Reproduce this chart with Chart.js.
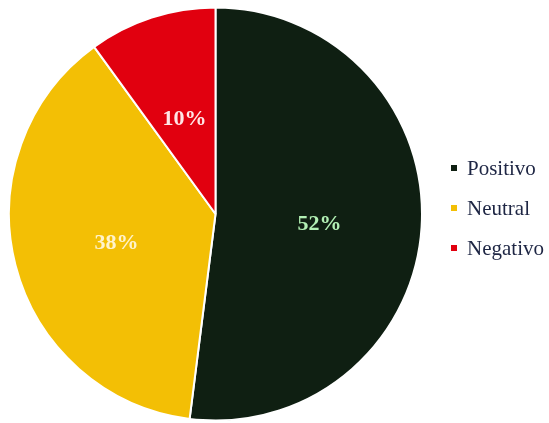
<!DOCTYPE html>
<html>
<head>
<meta charset="utf-8">
<script src="https://cdn.jsdelivr.net/npm/chart.js@4"></script>
<style>
  html, body { margin: 0; padding: 0; background: #fff; }
  .chart-container { position: relative; width: 549px; height: 423px; }
</style>
</head>
<body>
<div class="chart-container">
  <canvas id="pie"></canvas>
</div>
<script>
// data
const labels = ['Positivo', 'Neutral', 'Negativo'];
const values = [52, 38, 10];
const colors = ['#0f1f12', '#f3bf05', '#e1000f'];
const labelColors = ['#b2f0b4', '#fff3cc', '#ffe6e6'];

// percent labels in the middle of each slice
const sliceLabels = {
  id: 'sliceLabels',
  afterDatasetsDraw(chart) {
    const ctx = chart.ctx;
    const meta = chart.getDatasetMeta(0);
    ctx.save();
    ctx.font = 'bold 22px "Liberation Serif", serif';
    ctx.textAlign = 'center';
    ctx.textBaseline = 'middle';
    meta.data.forEach((arc, i) => {
      const p = arc.tooltipPosition();
      ctx.fillStyle = labelColors[i];
      ctx.fillText(values[i] + '%', p.x + 1, p.y + 4);
    });
    ctx.restore();
  }
};

// legend on the right, small square markers
const sideLegend = {
  id: 'sideLegend',
  afterDraw(chart) {
    const ctx = chart.ctx;
    ctx.save();
    ctx.font = '21px "Liberation Serif", serif';
    ctx.textBaseline = 'middle';
    labels.forEach((lab, i) => {
      const y = 168 + i * 40;
      ctx.fillStyle = colors[i];
      ctx.fillRect(451, y - 3, 6, 6);
      ctx.fillStyle = '#1e2644';
      ctx.fillText(lab, 467, y + 1);
    });
    ctx.restore();
  }
};

new Chart(document.getElementById('pie'), {
  type: 'pie',
  data: {
    labels: labels,
    datasets: [{
      data: values,
      backgroundColor: colors,
      borderColor: '#ffffff',
      borderWidth: 2
    }]
  },
  options: {
    responsive: true,
    maintainAspectRatio: false,
    animation: false,
    layout: { padding: { left: 8, right: 126, top: 5, bottom: 0 } },
    plugins: {
      legend: { display: false },
      tooltip: { enabled: false }
    }
  },
  plugins: [sliceLabels, sideLegend]
});
</script>
</body>
</html>
